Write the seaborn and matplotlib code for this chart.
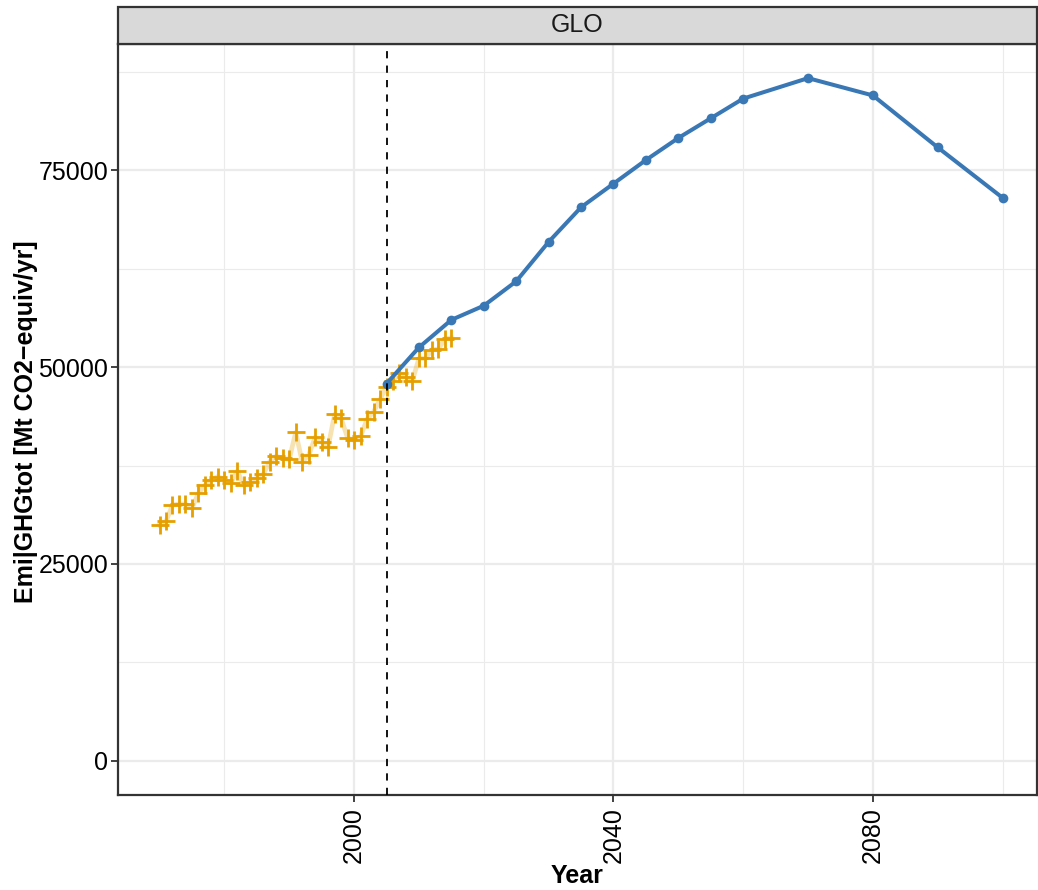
import numpy as np
import pandas as pd
import seaborn as sns
import matplotlib.pyplot as plt
from matplotlib.patches import Rectangle
from matplotlib.ticker import MultipleLocator

# Datos históricos (anuales)
hist_years = list(range(1970, 2016))
hist_values = [
    29950, 30400, 32500, 32600, 32600, 32100, 34000, 35000, 35700, 36100,
    35700, 35300, 36800, 35000, 35400, 35900, 36400, 38000, 38700, 38400,
    38300, 41700, 38000, 38800, 41100, 40500, 39900, 44000, 43500, 41000,
    40700, 41200, 43400, 44300, 45900, 47500, 48300, 49300, 48700, 48300,
    51100, 51100, 52200, 52300, 53600, 53700,
]

# Escenario
scen_years = [2005, 2010, 2015, 2020, 2025, 2030, 2035, 2040, 2045, 2050,
              2055, 2060, 2070, 2080, 2090, 2100]
scen_values = [47900, 52500, 56000, 57800, 60900, 65900, 70300, 73300, 76300,
               79100, 81600, 84100, 86700, 84500, 77900, 71500]

region = "GLO"
x_label = "Year"
y_label = "Emi|GHGtot [Mt CO2\u2212equiv/yr]"
start_year = 2005

df_hist = pd.DataFrame({"year": hist_years, "value": hist_values})
df_scen = pd.DataFrame({"year": scen_years, "value": scen_values})

plt.rcParams["font.family"] = ["Liberation Sans", "DejaVu Sans"]

fig = plt.figure(figsize=(10.38, 8.9), dpi=100)
ax = fig.add_axes([118 / 1038, 1 - 795 / 890, (1037 - 118) / 1038, (795 - 44) / 890])

orange = "#E69F00"
blue = "#3A78B5"

sns.lineplot(data=df_hist, x="year", y="value", ax=ax, color=orange, alpha=0.3,
             linewidth=3.4, zorder=3)
sns.scatterplot(data=df_hist, x="year", y="value", ax=ax, color=orange, marker="+",
                s=160, linewidth=2.0, zorder=4)
sns.lineplot(data=df_scen, x="year", y="value", ax=ax, color=blue, linewidth=2.9,
             marker="o", markersize=7, markeredgewidth=0, zorder=5)

ax.axvline(start_year, color="black", linestyle=(0, (4, 4)), linewidth=1.3, zorder=6)

ax.set_xlim(1963.6, 2105.3)
ax.set_ylim(-4335, 91035)
ax.xaxis.set_minor_locator(MultipleLocator(20))
ax.yaxis.set_major_locator(MultipleLocator(25000))
ax.yaxis.set_minor_locator(MultipleLocator(12500))
ax.set_xticks([2000, 2040, 2080])

ax.set_facecolor("white")
ax.grid(True, which="major", color="#EBEBEB", linewidth=1.6, zorder=0)
ax.grid(True, which="minor", color="#EBEBEB", linewidth=0.8, zorder=0)
ax.set_axisbelow(True)
for s in ax.spines.values():
    s.set_color("#333333")
    s.set_linewidth(1.6)

ax.tick_params(axis="both", which="major", length=5, width=1.3, color="#333333",
               labelsize=18, labelcolor="black")
ax.tick_params(axis="both", which="minor", length=0)
ax.tick_params(axis="x", labelrotation=90)
ax.tick_params(axis="y", pad=2)

ax.set_xlabel(x_label, fontsize=18, fontweight="bold", labelpad=1)
ax.set_ylabel(y_label, fontsize=18, fontweight="bold")
ax.yaxis.set_label_coords(-0.087, 0.497)

# Franja de faceta
strip = Rectangle((118 / 1038, 1 - 44 / 890), (1037 - 118) / 1038, 37 / 890,
                  transform=fig.transFigure, facecolor="#D9D9D9", edgecolor="#333333",
                  linewidth=1.6, clip_on=False)
fig.patches.append(strip)
fig.text((118 + 1037) / 2 / 1038, 1 - 25.5 / 890, region, ha="center", va="center",
         fontsize=18, color="#1A1A1A")

plt.savefig("out.png", dpi=100)
